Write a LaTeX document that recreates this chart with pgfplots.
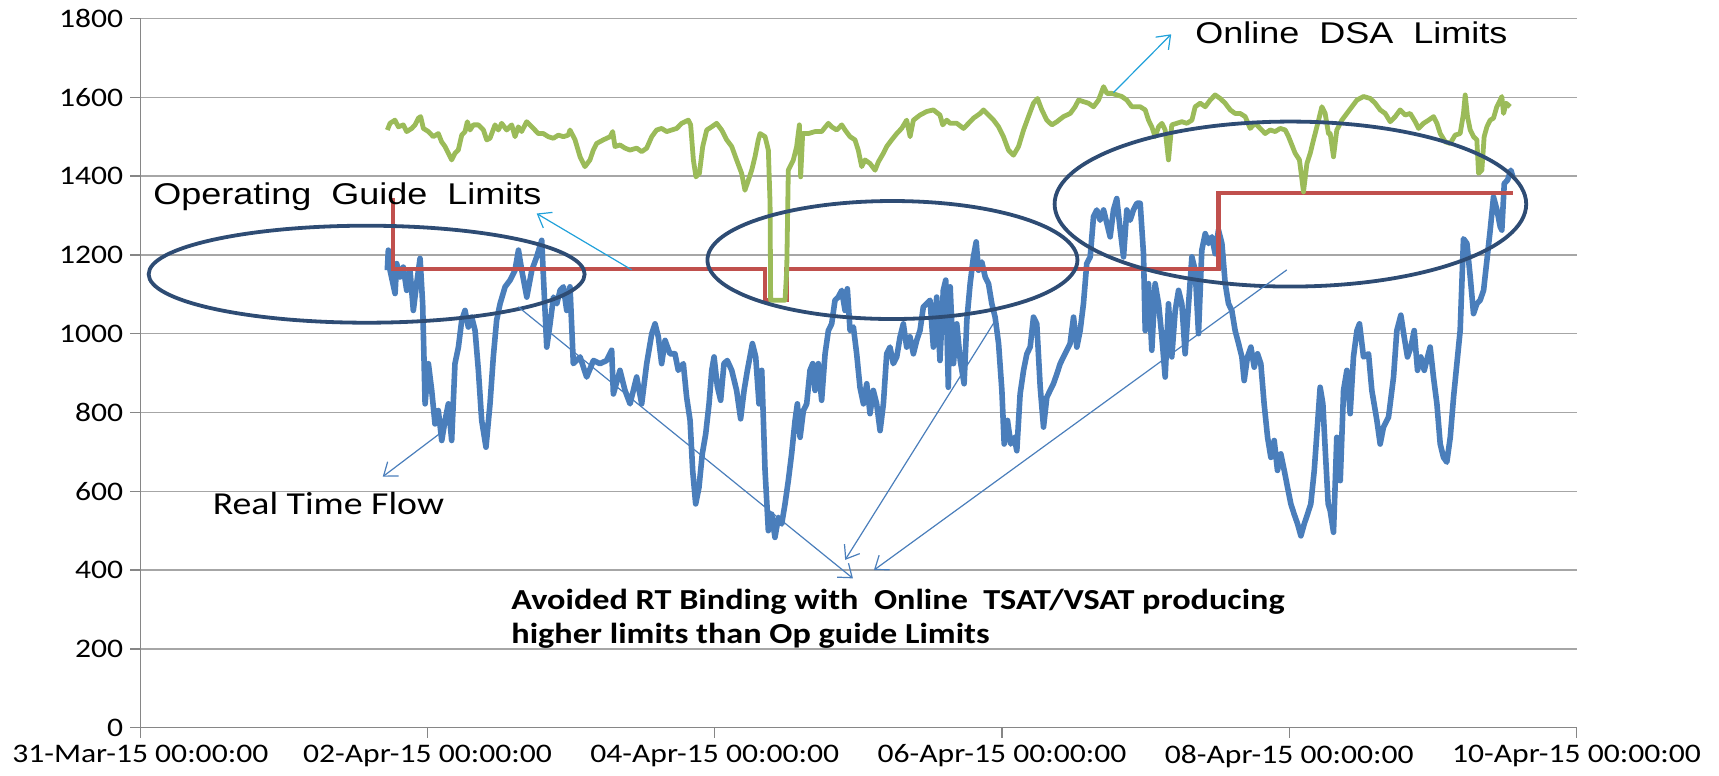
\documentclass[border=0pt]{standalone}
\usepackage{fontspec}
\setmainfont{Carlito}[FakeStretch=1.18]
\newfontfamily\arialfont{Liberation Sans}[FakeStretch=1.2]
\usepackage{pgfplots}
\pgfplotsset{compat=1.18}
\usetikzlibrary{arrows.meta}
\definecolor{rtblue}{HTML}{4A7EBB}
\definecolor{oglred}{HTML}{C0504D}
\definecolor{dsagreen}{HTML}{9BBB59}
\definecolor{ellblue}{HTML}{2E4C74}
\definecolor{cyanarrow}{HTML}{21A1DA}
\definecolor{gridgray}{HTML}{A6A6A6}
\definecolor{axgray}{HTML}{868686}

\pgfplotstableread{
d v
1.720 1161
1.727 1212
1.739 1161
1.774 1102
1.785 1178
1.808 1144
1.831 1169
1.855 1110
1.878 1161
1.901 1059
1.924 1127
1.948 1191
1.966 1076
1.983 822
2.006 924
2.029 856
2.052 771
2.075 805
2.099 729
2.122 780
2.145 822
2.168 729
2.191 924
2.215 966
2.238 1034
2.261 1059
2.284 1017
2.308 1042
2.331 1008
2.354 907
2.377 780
2.407 712
2.435 822
2.458 941
2.481 1034
2.505 1076
2.540 1119
2.575 1136
2.609 1161
2.633 1212
2.656 1161
2.691 1093
2.726 1161
2.760 1195
2.795 1237
2.807 1144
2.830 966
2.853 1025
2.877 1093
2.900 1076
2.923 1110
2.946 1119
2.969 1059
2.992 1119
3.015 924
3.062 941
3.108 890
3.155 932
3.201 924
3.247 932
3.282 958
3.294 847
3.340 907
3.375 856
3.410 822
3.456 890
3.491 822
3.526 924
3.561 1000
3.584 1025
3.607 992
3.630 924
3.654 983
3.688 949
3.723 949
3.746 907
3.781 924
3.804 839
3.828 780
3.846 653
3.867 568
3.890 610
3.913 695
3.937 746
3.960 822
3.979 907
3.995 941
4.018 866
4.041 831
4.064 924
4.087 932
4.118 907
4.152 856
4.180 784
4.204 856
4.227 907
4.262 975
4.285 941
4.308 822
4.327 907
4.350 653
4.373 500
4.396 542
4.419 483
4.443 534
4.466 517
4.489 568
4.512 627
4.535 695
4.559 780
4.575 822
4.594 737
4.617 805
4.640 822
4.663 907
4.682 924
4.698 856
4.721 924
4.744 831
4.768 949
4.791 1008
4.814 1025
4.837 1085
4.860 1093
4.884 1110
4.907 1059
4.923 1114
4.942 1008
4.965 1017
4.988 949
5.011 864
5.035 822
5.058 873
5.081 797
5.104 856
5.127 822
5.151 754
5.174 822
5.197 949
5.220 966
5.243 924
5.267 941
5.290 992
5.313 1025
5.336 966
5.359 992
5.383 949
5.406 983
5.429 1008
5.452 1068
5.475 1076
5.499 1085
5.522 966
5.545 1093
5.568 932
5.591 1110
5.608 1136
5.626 864
5.639 1119
5.662 924
5.685 1025
5.709 932
5.736 873
5.755 1034
5.778 1127
5.801 1195
5.820 1233
5.836 1161
5.859 1182
5.883 1144
5.906 1127
5.929 1076
5.952 1042
5.976 975
5.999 856
6.015 720
6.038 780
6.061 720
6.085 737
6.103 703
6.126 847
6.150 907
6.173 949
6.196 966
6.219 1042
6.242 1025
6.266 864
6.289 763
6.312 839
6.335 856
6.358 873
6.382 898
6.405 924
6.428 941
6.451 958
6.474 975
6.498 1042
6.521 966
6.544 1008
6.567 1076
6.590 1178
6.614 1195
6.637 1297
6.660 1314
6.683 1288
6.707 1314
6.730 1280
6.753 1246
6.776 1314
6.799 1343
6.823 1263
6.846 1195
6.869 1314
6.892 1288
6.915 1314
6.939 1331
6.962 1331
6.985 1203
6.997 1008
7.020 1127
7.043 958
7.066 1127
7.090 1076
7.113 992
7.136 890
7.159 1076
7.182 941
7.206 1059
7.229 1110
7.252 1076
7.275 949
7.299 1076
7.322 1195
7.345 1161
7.368 1000
7.391 1212
7.415 1254
7.438 1229
7.461 1246
7.484 1203
7.507 1263
7.531 1229
7.554 1127
7.577 1076
7.600 1059
7.623 1008
7.647 975
7.670 941
7.686 881
7.709 941
7.733 966
7.756 915
7.779 949
7.802 924
7.825 822
7.849 737
7.872 686
7.895 729
7.918 653
7.941 695
7.965 653
7.988 610
8.011 568
8.034 542
8.058 517
8.081 487
8.104 517
8.127 542
8.150 568
8.174 653
8.197 771
8.215 864
8.234 822
8.252 695
8.271 568
8.285 551
8.308 496
8.331 737
8.355 627
8.378 856
8.401 907
8.424 797
8.447 941
8.471 1008
8.489 1025
8.517 941
8.552 949
8.575 856
8.610 780
8.633 720
8.656 763
8.691 788
8.726 890
8.749 1008
8.777 1047
8.800 992
8.823 941
8.847 966
8.870 1008
8.893 907
8.916 941
8.940 907
8.963 941
8.981 966
9.004 890
9.028 822
9.051 720
9.074 686
9.097 674
9.121 737
9.144 839
9.167 924
9.190 1008
9.213 1241
9.237 1229
9.260 1144
9.283 1051
9.306 1076
9.329 1085
9.353 1110
9.376 1186
9.399 1263
9.422 1347
9.446 1314
9.469 1271
9.480 1263
9.497 1381
9.520 1390
9.543 1415
9.557 1398
}\rtflow

\pgfplotstableread{
d v
1.720 1517
1.739 1534
1.773 1542
1.797 1525
1.831 1530
1.855 1513
1.890 1521
1.913 1530
1.936 1547
1.952 1551
1.971 1521
2.006 1513
2.040 1500
2.075 1508
2.098 1487
2.122 1475
2.145 1458
2.168 1441
2.191 1458
2.214 1466
2.238 1504
2.261 1513
2.277 1538
2.296 1517
2.319 1530
2.354 1530
2.389 1517
2.412 1492
2.435 1496
2.470 1530
2.493 1517
2.516 1534
2.551 1517
2.586 1530
2.609 1500
2.632 1525
2.655 1513
2.690 1538
2.713 1530
2.737 1521
2.771 1508
2.806 1508
2.841 1500
2.876 1496
2.911 1504
2.946 1500
2.980 1504
2.992 1517
3.027 1492
3.062 1449
3.096 1424
3.131 1441
3.154 1466
3.178 1483
3.224 1492
3.271 1500
3.289 1513
3.305 1475
3.340 1479
3.375 1471
3.410 1466
3.456 1471
3.491 1462
3.526 1471
3.561 1500
3.595 1517
3.630 1521
3.665 1513
3.700 1517
3.735 1521
3.770 1534
3.816 1542
3.832 1530
3.851 1441
3.869 1398
3.893 1407
3.916 1475
3.944 1517
3.978 1525
4.013 1534
4.048 1517
4.083 1492
4.118 1475
4.152 1441
4.187 1407
4.210 1364
4.234 1390
4.257 1415
4.280 1449
4.303 1492
4.315 1508
4.350 1500
4.373 1466
4.385 1330
4.389 1085
4.489 1085
4.501 1161
4.512 1415
4.547 1441
4.570 1475
4.589 1530
4.598 1398
4.612 1508
4.652 1508
4.698 1513
4.744 1513
4.791 1534
4.814 1525
4.849 1517
4.884 1530
4.907 1517
4.942 1500
4.976 1492
4.999 1466
5.023 1424
5.046 1441
5.081 1432
5.116 1415
5.139 1436
5.174 1458
5.197 1475
5.232 1492
5.267 1508
5.301 1521
5.336 1542
5.360 1500
5.383 1542
5.429 1555
5.476 1564
5.522 1568
5.568 1555
5.587 1530
5.615 1542
5.639 1534
5.685 1534
5.732 1521
5.767 1534
5.801 1547
5.848 1559
5.871 1568
5.906 1555
5.941 1542
5.976 1525
6.010 1500
6.045 1466
6.080 1453
6.115 1475
6.150 1517
6.184 1551
6.219 1585
6.247 1597
6.277 1568
6.312 1542
6.347 1530
6.382 1538
6.428 1551
6.475 1559
6.509 1576
6.533 1593
6.567 1589
6.602 1585
6.637 1576
6.672 1593
6.707 1627
6.730 1610
6.765 1610
6.799 1606
6.834 1602
6.869 1593
6.904 1576
6.939 1576
6.962 1576
6.997 1568
7.020 1542
7.043 1525
7.066 1500
7.090 1525
7.113 1534
7.136 1517
7.159 1441
7.182 1530
7.217 1534
7.252 1538
7.287 1534
7.322 1542
7.345 1576
7.380 1585
7.415 1576
7.449 1593
7.484 1606
7.519 1597
7.554 1585
7.589 1568
7.623 1559
7.658 1559
7.693 1551
7.728 1521
7.763 1534
7.798 1521
7.832 1508
7.867 1517
7.902 1513
7.937 1521
7.972 1517
7.995 1500
8.018 1479
8.041 1458
8.071 1441
8.099 1360
8.123 1432
8.146 1458
8.169 1492
8.204 1542
8.227 1576
8.250 1559
8.273 1508
8.285 1508
8.308 1449
8.331 1517
8.366 1542
8.401 1559
8.436 1576
8.471 1593
8.517 1602
8.564 1597
8.598 1585
8.633 1568
8.668 1559
8.703 1538
8.738 1551
8.772 1568
8.807 1555
8.842 1559
8.877 1538
8.900 1521
8.935 1534
8.970 1542
9.005 1551
9.028 1534
9.051 1508
9.086 1487
9.121 1483
9.155 1504
9.190 1508
9.213 1559
9.225 1606
9.241 1551
9.260 1517
9.283 1500
9.306 1492
9.318 1407
9.341 1415
9.357 1500
9.376 1525
9.399 1542
9.422 1547
9.445 1576
9.469 1593
9.480 1602
9.492 1559
9.510 1585
9.538 1576
}\dsa

\pgfplotstableread{
d v
1.757 1345
1.757 1164
4.350 1164
4.350 1085
4.500 1085
4.500 1164
7.507 1164
7.507 1358
9.557 1358
}\ogl

\begin{document}
\begin{tikzpicture}
\useasboundingbox (-70.15pt,-24.15pt) rectangle (789.35pt,363.85pt);
\begin{axis}[
  at={(0,0)}, anchor=south west,
  width=718.1pt, height=354.6pt, scale only axis,
  xmin=0, xmax=10, ymin=0, ymax=1800,
  clip=false,
  axis x line*=bottom, axis y line*=left,
  axis line style={draw=axgray, line width=0.7pt},
  xtick={0,2,4,6,8,10},
  xticklabels={31-Mar-15 00:00:00,02-Apr-15 00:00:00,04-Apr-15 00:00:00,06-Apr-15 00:00:00,08-Apr-15 00:00:00,10-Apr-15 00:00:00},
  ytick={0,200,...,1800},
  ymajorgrids, grid style={draw=gridgray, line width=0.7pt},
  tick align=outside, major tick length=5pt,
  tick style={draw=axgray, line width=0.7pt},
  /pgf/number format/assume math mode=true,
  /pgf/number format/1000 sep={},
  yticklabel style={font=\fontsize{13.4}{15}\selectfont, text=black},
  xticklabel style={font=\fontsize{13.4}{15}\selectfont, text=black},
]
\addplot[rtblue, line width=2.8pt, line join=round, no marks] table[x=d,y=v] {\rtflow};
\addplot[oglred, line width=2.1pt, no marks] table[x=d,y=v] {\ogl};
\addplot[dsagreen, line width=2.4pt, line join=round, no marks] table[x=d,y=v] {\dsa};

\draw[ellblue, line width=1.9pt] (axis cs:1.576,1151) ellipse [x radius=109pt, y radius=24.25pt];
\draw[ellblue, line width=1.9pt] (axis cs:5.237,1187) ellipse [x radius=92.5pt, y radius=29.5pt];
\draw[ellblue, line width=1.9pt] (axis cs:8.008,1329) ellipse [x radius=117.9pt, y radius=41.25pt];

\draw[cyanarrow, line width=0.6pt, -{Straight Barb[length=6pt,width=9pt]}] (axis cs:3.422,1162) -- (axis cs:2.760,1305);
\draw[cyanarrow, line width=0.6pt, -{Straight Barb[length=6pt,width=9pt]}] (axis cs:6.776,1612) -- (axis cs:7.178,1760);
\draw[rtblue, line width=0.6pt, -{Straight Barb[length=6pt,width=9pt]}] (axis cs:2.087,747) -- (axis cs:1.688,637);
\draw[rtblue, line width=0.6pt, -{Straight Barb[length=6pt,width=9pt]}] (axis cs:2.632,1068) -- (axis cs:4.962,379);
\draw[rtblue, line width=0.6pt, -{Straight Barb[length=6pt,width=9pt]}] (axis cs:5.940,1026) -- (axis cs:4.908,426);
\draw[rtblue, line width=0.6pt, -{Straight Barb[length=6pt,width=9pt]}] (axis cs:7.983,1162) -- (axis cs:5.108,400);

\node[anchor=base west, inner sep=0pt, font=\arialfont\fontsize{15}{18}\selectfont] at (axis cs:0.088,1329) {Operating\ \ Guide\ \ Limits};
\node[anchor=base west, inner sep=0pt, font=\arialfont\fontsize{15}{18}\selectfont] at (axis cs:7.343,1737) {Online\ \ DSA\ \ Limits};
\node[anchor=base west, inner sep=0pt, font=\fontsize{16}{18}\selectfont] at (axis cs:0.502,540) {Real Time Flow};
\node[anchor=base west, inner sep=0pt, font=\bfseries\fontsize{14.5}{17}\selectfont] at (axis cs:2.581,299) {Avoided RT Binding with\ \ Online\ \ TSAT/VSAT producing};
\node[anchor=base west, inner sep=0pt, font=\bfseries\fontsize{14.5}{17}\selectfont] at (axis cs:2.581,214) {higher limits than Op guide Limits};
\end{axis}
\end{tikzpicture}
\end{document}
